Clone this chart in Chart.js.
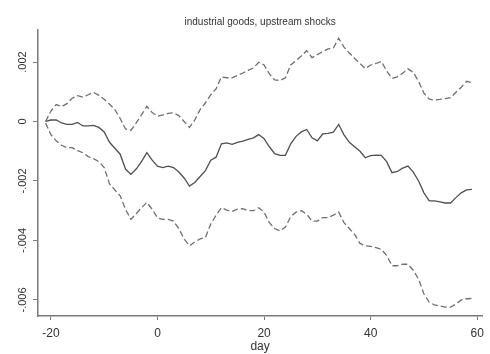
<!DOCTYPE html>
<html>
<head>
<meta charset="utf-8">
<script src="https://cdn.jsdelivr.net/npm/chart.js@4/dist/chart.umd.min.js"></script>
<style>
  body { margin: 0; background: #fff; }
  canvas { display: block; }
</style>
</head>
<body>
<canvas id="irfChart" width="490" height="354"></canvas>
<script>
  // days after the shock
  const days = [];
  for (let d = -21; d <= 59; d++) days.push(d);

  // point estimate (x 0.001)
  const estimate = [
    0, 0.05, 0.05, -0.05, -0.1, -0.1, -0.03, -0.15, -0.15, -0.13,
    -0.2, -0.35, -0.7, -0.9, -1.1, -1.6, -1.78, -1.6, -1.35, -1.05,
    -1.3, -1.5, -1.55, -1.5, -1.55, -1.7, -1.9, -2.17, -2.05, -1.85,
    -1.65, -1.3, -1.2, -0.75, -0.72, -0.77, -0.7, -0.66, -0.6, -0.55,
    -0.44, -0.58, -0.85, -1.08, -1.14, -1.14, -0.75, -0.5, -0.35, -0.27,
    -0.55, -0.65, -0.42, -0.4, -0.36, -0.1, -0.45, -0.7, -0.85, -1.0,
    -1.22, -1.15, -1.13, -1.14, -1.35, -1.72, -1.68, -1.57, -1.5, -1.7,
    -2.0, -2.4, -2.67, -2.67, -2.7, -2.74, -2.74, -2.56, -2.4, -2.3,
    -2.28
  ];

  // upper confidence band (x 0.001)
  const upper = [
    0, 0.35, 0.57, 0.5, 0.6, 0.78, 0.87, 0.82, 0.9, 0.98,
    0.88, 0.75, 0.58, 0.4, 0.1, -0.25, -0.3, -0.05, 0.22, 0.51,
    0.3, 0.18, 0.22, 0.27, 0.29, 0.2, 0.0, -0.2, 0.05, 0.4,
    0.63, 0.9, 1.1, 1.5, 1.47, 1.47, 1.55, 1.63, 1.72, 1.8,
    1.99, 1.9, 1.6, 1.4, 1.38, 1.47, 1.9, 2.05, 2.2, 2.38,
    2.15, 2.25, 2.35, 2.44, 2.47, 2.8, 2.5, 2.3, 2.12, 1.95,
    1.78, 1.9, 1.95, 2.02, 1.7, 1.45, 1.5, 1.62, 1.77, 1.65,
    1.35, 0.95, 0.75, 0.72, 0.74, 0.77, 0.8, 0.98, 1.15, 1.35,
    1.3
  ];

  // lower confidence band (x 0.001)
  const lower = [
    -0.05, -0.44, -0.65, -0.8, -0.88, -0.88, -0.98, -1.05, -1.18, -1.25,
    -1.35, -1.55, -2.1, -2.3, -2.5, -2.95, -3.29, -3.1, -2.9, -2.72,
    -2.95, -3.24, -3.29, -3.29, -3.35, -3.6, -3.95, -4.18, -4.05, -3.95,
    -3.9, -3.45, -3.15, -2.9, -2.98, -3.02, -2.95, -2.93, -3.0, -3.0,
    -2.9, -3.05, -3.4, -3.6, -3.68, -3.55, -3.2, -3.05, -3.0, -3.12,
    -3.35, -3.35, -3.23, -3.23, -3.15, -3.05, -3.4, -3.6, -3.8, -4.1,
    -4.18, -4.2, -4.24, -4.3, -4.5, -4.85, -4.85, -4.8, -4.8, -5.0,
    -5.3, -5.8, -6.08, -6.17, -6.2, -6.24, -6.24, -6.14, -6.0, -5.96,
    -5.95
  ];

  const xTicks = [-20, 0, 20, 40, 60];
  const yTicks = [-0.006, -0.004, -0.002, 0, 0.002];
  const yTickLabels = ['-.006', '-.004', '-.002', '0', '.002'];

  const toPoints = (vals) => vals.map((v, i) => ({ x: days[i], y: v / 1000 }));

  const axisColor = '#7a7a7a';
  const textColor = '#333';
  const fontFamily = '"Liberation Sans", Arial, sans-serif';

  // y labels in Stata style, turned on their side
  const rotatedYLabels = {
    id: 'rotatedYLabels',
    afterDraw(chart) {
      const ctx = chart.ctx;
      const scale = chart.scales.y;
      ctx.save();
      ctx.fillStyle = textColor;
      ctx.font = '11px ' + fontFamily;
      ctx.textAlign = 'center';
      ctx.textBaseline = 'middle';
      yTicks.forEach((v, i) => {
        const py = scale.getPixelForValue(v);
        ctx.save();
        ctx.translate(23, py);
        ctx.rotate(-Math.PI / 2);
        ctx.fillText(yTickLabels[i], 0, 0);
        ctx.restore();
      });
      ctx.restore();
    }
  };

  const config = {
    type: 'line',
    data: {
      datasets: [{
        label: 'upper',
        data: toPoints(upper),
        borderColor: '#707070',
        borderWidth: 1.3,
        borderDash: [6, 3],
        pointRadius: 0,
        tension: 0
      }, {
        label: 'estimate',
        data: toPoints(estimate),
        borderColor: '#505050',
        borderWidth: 1.3,
        pointRadius: 0,
        tension: 0
      }, {
        label: 'lower',
        data: toPoints(lower),
        borderColor: '#707070',
        borderWidth: 1.3,
        borderDash: [6, 3],
        pointRadius: 0,
        tension: 0
      }]
    },
    options: {
      responsive: false,
      animation: false,
      events: [],
      layout: { padding: { top: 0, right: 5, bottom: 0, left: 0 } },
      plugins: {
        legend: { display: false },
        tooltip: { enabled: false },
        title: {
          display: true,
          text: 'industrial goods, upstream shocks',
          fullSize: false,
          color: textColor,
          font: { family: fontFamily, size: 10, weight: 'normal' },
          padding: { top: 16, bottom: 2 }
        }
      },
      scales: {
        x: {
          type: 'linear',
          min: -22.42,
          max: 60.93,
          afterBuildTicks: (scale) => { scale.ticks = xTicks.map(v => ({ value: v })); },
          afterFit: (scale) => { scale.height = 38; },
          grid: { drawOnChartArea: false, drawTicks: true, tickLength: 4, color: axisColor, lineWidth: 1 },
          border: { display: true, color: axisColor, width: 1.5 },
          ticks: {
            color: textColor,
            font: { family: fontFamily, size: 12 },
            padding: 6,
            maxRotation: 0,
            callback: (v) => String(v)
          },
          title: {
            display: true,
            text: 'day',
            color: textColor,
            font: { family: fontFamily, size: 12 },
            padding: { top: -4, bottom: 0 }
          }
        },
        y: {
          type: 'linear',
          min: -0.00654,
          max: 0.003076,
          afterBuildTicks: (scale) => { scale.ticks = yTicks.map(v => ({ value: v })); },
          afterFit: (scale) => { scale.width = 38; },
          grid: { drawOnChartArea: false, drawTicks: true, tickLength: 5, color: axisColor, lineWidth: 1 },
          border: { display: true, color: axisColor, width: 1.5 },
          ticks: { display: false }
        }
      }
    },
    plugins: [rotatedYLabels]
  };

  const irfChart = new Chart(
    document.getElementById('irfChart'),
    config
  );
</script>
</body>
</html>
